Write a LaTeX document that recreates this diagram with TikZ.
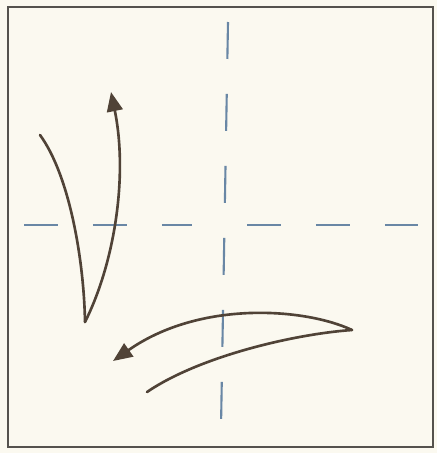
\documentclass[tikz,border=0pt]{standalone}
\usepackage{tikz}
\usetikzlibrary{arrows.meta}
\definecolor{paper}{RGB}{251, 249, 240}
\definecolor{framegray}{RGB}{85, 82, 78}
\definecolor{foldblue}{RGB}{105, 135, 165}
\definecolor{movebrown}{RGB}{80, 67, 55}
\tikzset{
  % ramka
  frameline/.style = {line width=1.2pt, draw=framegray},
  % buklash chiziqlari
  foldline/.style  = {line width=1.2pt, draw=foldblue, dash pattern=on 0.68cm off 0.7cm},
  foldlinev/.style = {line width=1.2pt, draw=foldblue, dash pattern=on 0.74cm off 0.7cm},
  % harakat o'qlari
  moveline/.style  = {line width=1.5pt, draw=movebrown, line cap=round},
  movearrow/.style = {moveline, -{Triangle[length=11pt, width=9pt]}},
}
\begin{document}
\begin{tikzpicture}[x=0.02cm, y=-0.02cm]
  % fon
  \fill[paper] (0,0) rectangle (437,453);
  \useasboundingbox (0,0) rectangle (437,453);
  % ramka
  \draw[frameline] (8,7) rectangle (433,447);
  % buklash chiziqlari
  \coordinate (VT) at (228,22);
  \coordinate (VB) at (221,427);
  \draw[foldlinev] (VT) -- (VB);
  \draw[foldline] (24,225) -- (192,225);
  \draw[foldline] (247,225) -- (418,225);
  % chap o'q
  \coordinate (L1) at (40,135);
  \coordinate (L2) at (85,322);
  \coordinate (L3) at (111,92);
  \draw[moveline] (L1) .. controls (70,176) and (84,262) .. (L2);
  \draw[movearrow] (L2) .. controls (115,262) and (128,175) .. (L3);
  % pastki o'q
  \coordinate (B1) at (147,392);
  \coordinate (B2) at (352,330);
  \coordinate (B3) at (113,361);
  \draw[moveline] (B1) .. controls (200,356) and (295,334) .. (B2);
  \draw[movearrow] (B2) .. controls (305,308) and (200,300) .. (B3);
\end{tikzpicture}
\end{document}
